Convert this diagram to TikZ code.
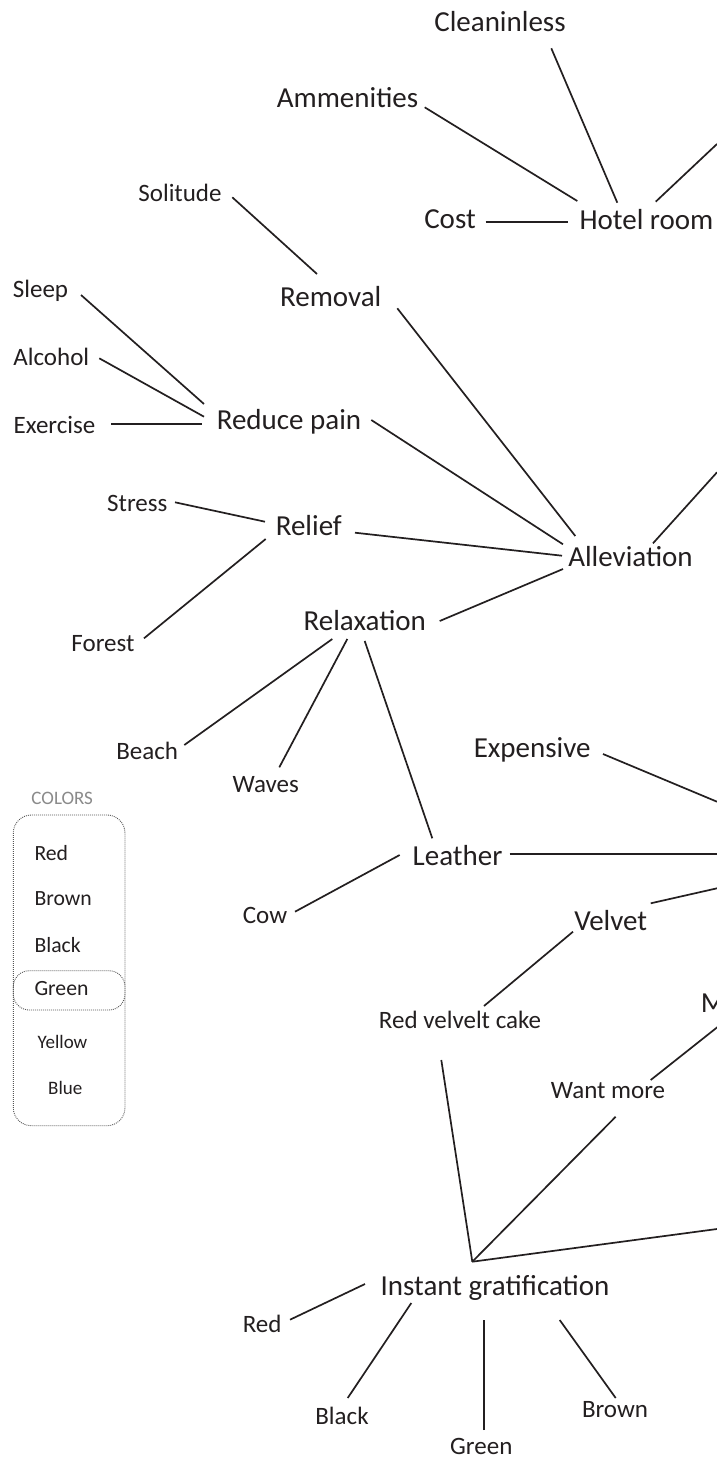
\documentclass[tikz,border=0pt]{standalone}
\usepackage{fontspec}
\setmainfont{Carlito}
\usetikzlibrary{calc}
\definecolor{ink}{HTML}{231F20}
\definecolor{legendgray}{HTML}{8A8A8A}
\definecolor{dotgray}{HTML}{555555}
% connector between two nodes, each end given as an offset from the node's baseline centre
\newcommand\linkpair[4]{\draw[link] ($(#1.base)+(#2)$) -- ($(#3.base)+(#4)$);}
\begin{document}
\begin{tikzpicture}[x=1pt,y=-1pt,
  big/.style={font=\fontsize{29}{35}\selectfont, text=ink, anchor=base, inner sep=0pt},
  mid/.style={font=\fontsize{25}{30}\selectfont, text=ink, anchor=base, inner sep=0pt},
  legitem/.style={font=\fontsize{21.7}{26}\selectfont, text=ink, anchor=base west, inner sep=0pt},
  legsmall/.style={font=\fontsize{19}{23}\selectfont, text=ink, anchor=base, inner sep=0pt},
  link/.style={draw=ink, line width=1.7pt},
  legendbox/.style={draw=dotgray, line width=0.9pt, dash pattern=on 0.9pt off 1.1pt}]

\useasboundingbox (0,0) rectangle (717,1459);
\fill[white] (0,0) rectangle (717,1459);

% ---- hotel room cluster
\node[big] (clean) at (500,31.7) {Cleaninless};
\node[big] (amen) at (347.5,107) {Ammenities};
\node[big] (hotel) at (646.5,229.3) {Hotel room};
\node[big] (cost) at (450,228.3) {Cost};
\coordinate (e1) at (717,144);

% ---- alleviation cluster
\node[mid] (solitude) at (180,201.7) {Solitude};
\node[big] (removal) at (330.7,306) {Removal};
\node[mid] (sleep) at (40.5,297.7) {Sleep};
\node[mid] (alcohol) at (51.3,365.5) {Alcohol};
\node[mid] (exercise) at (54.5,433.3) {Exercise};
\node[big] (reduce) at (289,429) {Reduce pain};
\node[mid] (stress) at (137.3,511.7) {Stress};
\node[big] (relief) at (308.8,535.7) {Relief};
\node[big] (allev) at (630.5,566.7) {Alleviation};
\node[mid] (forest) at (103,651.7) {Forest};
\node[big] (relax) at (364.8,630) {Relaxation};
\node[mid] (beach) at (147.2,759.3) {Beach};
\node[mid] (waves) at (265.8,792.7) {Waves};
\coordinate (e2) at (717,472.3);

% ---- leather / velvet cluster
\node[big] (expensive) at (532.2,757.3) {Expensive};
\node[big] (leather) at (457.5,865) {Leather};
\node[mid] (cow) at (265,923.3) {Cow};
\node[big] (velvet) at (610.7,930) {Velvet};
\node[mid] (rvc) at (460,1028.3) {Red velvelt cake};
\node[big, anchor=base west] (mnode) at (700.7,1012) {M};
\node[mid] (want) at (608,1098) {Want more};
\coordinate (e3) at (717,854.3);
\coordinate (e4) at (717,801.7);
\coordinate (e5) at (717,888.3);

% ---- instant gratification cluster
\node[big] (instant) at (495,1295.7) {Instant gratification};
\coordinate (hub) at ($(instant.base)+(-22.7,-34)$);
\coordinate (e6) at (717,1229);
\node[mid] (red2) at (262.2,1332.3) {Red};
\node[mid] (black2) at (342,1424) {Black};
\node[mid] (green2) at (481.3,1454) {Green};
\node[mid] (brown2) at (615,1417.3) {Brown};

% ---- connectors
\linkpair{clean}{51.3,16.6}{hotel}{-29.2,-26.6}
\linkpair{amen}{77.2,0.3}{hotel}{-69.2,-28.3}
\draw[link] ($(hotel.base)+(9.2,-27.6)$) -- (e1);
\linkpair{cost}{35.7,-6}{hotel}{-78.5,-7}

\linkpair{solitude}{52.3,-4.4}{removal}{-13.7,-32}
\linkpair{removal}{66.6,2.3}{allev}{-55.2,-30.7}
\linkpair{sleep}{40.5,-2.7}{reduce}{-85,-25}
\linkpair{alcohol}{48,-7.2}{reduce}{-85,-12.3}
\linkpair{exercise}{56.5,-9}{reduce}{-86.7,-4.7}
\linkpair{reduce}{82.3,-9}{allev}{-67.5,-22.4}
\linkpair{stress}{37.7,-9.4}{relief}{-43.8,-14}
\linkpair{relief}{46.2,-3}{allev}{-68.5,-11}
\linkpair{forest}{41,-13.4}{relief}{-43.1,3.3}
\linkpair{relax}{74.9,-9}{allev}{-67.5,2.3}
\draw[link] ($(allev.base)+(22.5,-23.4)$) -- (e2);
\linkpair{relax}{-32.5,9}{beach}{37.1,-14.3}
\linkpair{relax}{-17.5,9}{waves}{13.5,-25.4}
\linkpair{relax}{-0.1,11}{leather}{-25.2,-26.7}

\linkpair{cow}{30,-11.6}{leather}{-57.8,-10}
\draw[link] ($(leather.base)+(52.2,-10.7)$) -- (e3);
\draw[link] ($(expensive.base)+(70.8,-3.3)$) -- (e4);
\draw[link] ($(velvet.base)+(40,-26.7)$) -- (e5);
\linkpair{velvet}{-37.7,1.7}{rvc}{24,-22.3}
\linkpair{mnode}{9.3,11}{want}{42.7,-18}

\draw[link] ($(rvc.base)+(-18.7,31.7)$) -- (hub);
\draw[link] ($(want.base)+(7.7,18.7)$) -- (hub);
\draw[link] (hub) -- (e6);
\linkpair{red2}{27.8,-12.6}{instant}{-130,-11.7}
\linkpair{black2}{5.7,-26}{instant}{-83.7,7.3}
\linkpair{green2}{2.7,-24}{instant}{-11,24.3}
\linkpair{brown2}{0.7,-19.3}{instant}{64.7,24.3}

% ---- colour legend
\node[legsmall, text=legendgray] (legtitle) at (62.2,804) {COLORS};
\draw[legendbox, rounded corners=18pt] (13.3,815) rectangle (125,1125.7);
\draw[legendbox, rounded corners=16pt] (13.3,970.7) rectangle (125,1010);
\node[legitem] (lred) at (34.3,860) {Red};
\node[legitem] (lbrown) at (34.3,905.7) {Brown};
\node[legitem] (lblack) at (34.3,952.7) {Black};
\node[legitem] (lgreen) at (34.3,995) {Green};
\node[legsmall] (lyellow) at (62.5,1048.3) {Yellow};
\node[legsmall] (lblue) at (65.3,1094) {Blue};
\end{tikzpicture}
\end{document}
